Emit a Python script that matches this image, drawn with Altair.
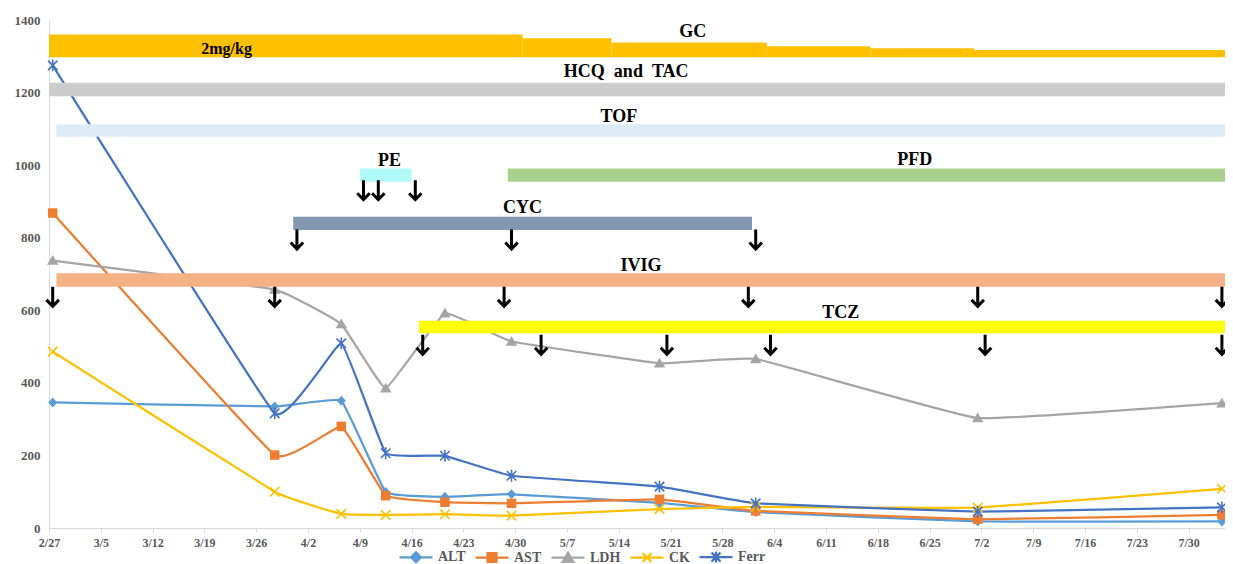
import altair as alt
import pandas as pd

# ---------------- laboratory values ----------------
LAB_DATES = ["2020-02-27", "2020-03-28", "2020-04-06", "2020-04-12", "2020-04-20",
             "2020-04-29", "2020-05-19", "2020-06-01", "2020-07-01", "2020-08-03"]
ALT = [346, 335, 351, 99, 86, 93, 69, 44, 18, 18]
AST = [868, 201, 280, 89, 71, 68, 79, 47, 24, 36]
LDH = [737, 657, 562, 385, 592, 514, 454, 466, 303, 344]
CK = [486, 100, 39, 36, 38, 34, 52, 58, 56, 108]
FERR = [1275, 316, 509, 206, 199, 144, 114, 68, 45, 57]

SERIES = ["ALT", "AST", "LDH", "CK", "Ferr"]
SERIES_COLORS = ["#5B9BD5", "#ED7D31", "#A5A5A5", "#FFC000", "#4472C4"]
MARKER_PATHS = [
    "M0,-1L0.9,0L0,1L-0.9,0Z",
    "M-0.95,-0.95L0.95,-0.95L0.95,0.95L-0.95,0.95Z",
    "M0,-1.1L1.15,0.85L-1.15,0.85Z",
    "M-1,-1L1,1M-1,1L1,-1",
    "M-1,-1L1,1M-1,1L1,-1M0,-1.25L0,1.25",
]
MARKER_FILLED = [True, True, True, False, False]
LEGEND_PATHS = [
    "M-1,0L1,0M0,-0.3L0.3,0L0,0.3L-0.3,0ZM0,-0.18L0.18,0L0,0.18L-0.18,0ZM0,-0.06L0.06,0L0,0.06L-0.06,0Z",
    "M-1,0L1,0M-0.27,-0.27L0.27,-0.27L0.27,0.27L-0.27,0.27ZM-0.15,-0.15L0.15,-0.15L0.15,0.15L-0.15,0.15Z"
    "M-0.05,-0.05L0.05,-0.05L0.05,0.05L-0.05,0.05Z",
    "M-1,0L1,0M0,-0.3L0.32,0.25L-0.32,0.25ZM0,-0.117L0.16,0.158L-0.16,0.158ZM0,0.012L0.048,0.094L-0.048,0.094Z",
    "M-1,0L1,0M-0.27,-0.27L0.27,0.27M-0.27,0.27L0.27,-0.27",
    "M-1,0L1,0M-0.27,-0.27L0.27,0.27M-0.27,0.27L0.27,-0.27M0,-0.32L0,0.32",
]

# ---------------- axes ----------------
TICK_DATES = ["2020-02-27", "2020-03-05", "2020-03-12", "2020-03-19", "2020-03-26",
              "2020-04-02", "2020-04-09", "2020-04-16", "2020-04-23", "2020-04-30",
              "2020-05-07", "2020-05-14", "2020-05-21", "2020-05-28", "2020-06-04",
              "2020-06-11", "2020-06-18", "2020-06-25", "2020-07-02", "2020-07-09",
              "2020-07-16", "2020-07-23", "2020-07-30"]
X_DOMAIN = ["2020-02-27", "2020-08-03T22"]
Y_TICKS = [0, 200, 400, 600, 800, 1000, 1200, 1400]

# ---------------- treatment bars ----------------
BAR_NAME = ["GC", "GC", "GC", "GC", "GC", "GC", "HCQ and TAC", "TOF", "PE", "PFD", "CYC", "IVIG", "TCZ"]
BAR_START = ["2020-02-27", "2020-05-01", "2020-05-13", "2020-06-03", "2020-06-17", "2020-07-01",
             "2020-02-27", "2020-02-28", "2020-04-09", "2020-04-29", "2020-03-31", "2020-02-28", "2020-04-17"]
BAR_END = ["2020-05-01", "2020-05-13", "2020-06-03", "2020-06-17", "2020-07-01", "2020-08-05",
           "2020-08-05", "2020-08-05", "2020-04-16", "2020-08-05", "2020-06-01", "2020-08-05", "2020-08-05"]
BAR_LOW = [1297, 1297, 1297, 1297, 1297, 1297, 1190, 1078, 954, 954, 821, 665, 537]
BAR_HIGH = [1360, 1350, 1338, 1328, 1322, 1317, 1227, 1113, 991, 991, 858, 702, 571]
BAR_COLOR = ["#FFC000"] * 6 + ["#CCCCCC", "#DDEBF7", "#B0FAFA", "#A9D18E", "#8497B0", "#F4B183", "#FFFF00"]

# ---------------- text labels ----------------
LABEL_TEXT = ["GC", "2mg/kg", "HCQ \u00a0and \u00a0TAC", "TOF", "PE", "PFD", "CYC", "IVIG", "TCZ"]
LABEL_DATE = ["2020-05-24", "2020-03-22", "2020-05-15", "2020-05-14", "2020-04-13",
              "2020-06-23", "2020-05-01", "2020-05-17", "2020-06-13"]
LABEL_Y = [1366, 1320, 1258, 1134, 1012, 1015, 882, 723, 593]
LABEL_SIZE = [18, 16, 18, 18, 18, 18, 18, 18, 18]

# ---------------- dosing arrows ----------------
PE_ARROWS = ["2020-04-09", "2020-04-11", "2020-04-16"]
CYC_ARROWS = ["2020-03-31", "2020-04-29", "2020-06-01"]
IVIG_ARROWS = ["2020-02-27", "2020-03-28", "2020-04-28", "2020-05-31", "2020-07-01", "2020-08-03"]
TCZ_ARROWS = ["2020-04-17", "2020-05-03", "2020-05-20", "2020-06-03", "2020-07-02", "2020-08-03"]
ARROW_LEVEL = {"PE": 931, "CYC": 795, "IVIG": 637, "TCZ": 505}
ARROW_PATH = "M0,-1L0,0.92M-0.62,0.3L0,0.95L0.62,0.3"

FONT = "Liberation Serif"


def dt(s):
    day, _, hour = s.partition("T")
    y, m, d = (int(v) for v in day.split("-"))
    return alt.DateTime(year=y, month=m, date=d, hours=int(hour or 0), utc=True)


lab = pd.DataFrame({
    "date": LAB_DATES * len(SERIES),
    "series": [s for s in SERIES for _ in LAB_DATES],
    "value": ALT + AST + LDH + CK + FERR,
})
bars = pd.DataFrame({"name": BAR_NAME, "start": BAR_START, "end": BAR_END,
                     "low": BAR_LOW, "high": BAR_HIGH, "color": BAR_COLOR})
labels = pd.DataFrame({"text": LABEL_TEXT, "date": LABEL_DATE, "y": LABEL_Y, "size": LABEL_SIZE})
arrow_rows = []
for grp, dates in [("PE", PE_ARROWS), ("CYC", CYC_ARROWS), ("IVIG", IVIG_ARROWS), ("TCZ", TCZ_ARROWS)]:
    for d in dates:
        arrow_rows.append({"group": grp, "date": d, "level": ARROW_LEVEL[grp]})
arrows = pd.DataFrame(arrow_rows)

XSCALE = alt.Scale(type="utc", domain=[dt(X_DOMAIN[0]), dt(X_DOMAIN[1])])
XAXIS = alt.Axis(values=[dt(s) for s in TICK_DATES],
                 labelExpr="utcFormat(datum.value, '%-m/%-d')",
                 title=None, grid=False, tickSize=4, labelPadding=5, labelFontSize=12,
                 labelAngle=0, labelOverlap=False, labelFlush=False)
YSCALE = alt.Scale(domain=[0, 1400], nice=False, zero=True)
YAXIS = alt.Axis(values=Y_TICKS, format="d", ticks=False, labelPadding=9, labelFontSize=13,
                 grid=False, title=None)


def xband(field="date"):
    return alt.X(f"utcyearmonthdate({field}):T", bandPosition=0.5, scale=XSCALE, axis=XAXIS, title=None)


def xraw(field):
    return alt.X(f"{field}:T", scale=XSCALE, axis=XAXIS, title=None)


def yq(field):
    return alt.Y(f"{field}:Q", scale=YSCALE, axis=YAXIS, title=None)


series_layers = []
for s, c in zip(SERIES, SERIES_COLORS):
    series_layers.append(
        alt.Chart(lab).transform_filter(alt.datum.series == s).mark_line(
            interpolate="cardinal", tension=0.75, strokeWidth=2.25, color=c
        ).encode(x=xband(), y=yq("value"))
    )
for s, c, p, f in zip(SERIES, SERIES_COLORS, MARKER_PATHS, MARKER_FILLED):
    base = alt.Chart(lab).transform_filter(alt.datum.series == s)
    if f:
        mk = base.mark_point(shape=p, filled=True, color=c, size=100, opacity=1)
    else:
        mk = base.mark_point(shape=p, filled=False, color=c, size=90, strokeWidth=1.6, opacity=1)
    series_layers.append(mk.encode(x=xband(), y=yq("value")))

bar_layer = alt.Chart(bars).mark_rect().encode(
    x=xraw("start"), x2="end:T", y=yq("low"), y2="high:Q",
    fill=alt.Fill("color:N", scale=None),
)

arrow_layer = alt.Chart(arrows).mark_point(
    shape=ARROW_PATH, filled=False, color="black", size=400, strokeWidth=3, opacity=1
).encode(x=xband(), y=yq("level"))

text_layer = alt.Chart(labels).mark_text(
    font=FONT, fontWeight="bold", color="black", baseline="middle", align="center"
).encode(x=xraw("date"), y=yq("y"), text="text:N", size=alt.Size("size:Q", scale=None))

LEG = dict(orient="none", legendX=349, legendY=519, direction="horizontal",
           labelFont=FONT, labelFontWeight="bold", labelFontSize=14, labelColor="#595959",
           symbolSize=1089, symbolStrokeWidth=2.25, symbolOpacity=1, labelOffset=4,
           columnPadding=5, padding=0)
legend_layer = alt.Chart(lab).mark_point(filled=False, strokeWidth=0.01).encode(
    x=xband(), y=yq("value"),
    color=alt.Color("series:N", scale=alt.Scale(domain=SERIES, range=SERIES_COLORS),
                    legend=alt.Legend(**LEG), title=None),
    shape=alt.Shape("series:N", scale=alt.Scale(domain=SERIES, range=LEGEND_PATHS),
                    legend=alt.Legend(**LEG), title=None),
)

chart = alt.layer(*series_layers, bar_layer, arrow_layer, text_layer, legend_layer).properties(
    width=1176, height=508,
    padding={"left": 41, "top": 12, "right": 0, "bottom": 36},
    autosize=alt.AutoSizeParams(type="none"),
    background="white",
).configure_view(stroke=None).configure_axis(
    domainColor="#D9D9D9", tickColor="#D9D9D9", labelFont=FONT, labelFontWeight="bold",
    labelColor="#595959", domainWidth=1,
)

chart.save("out.html", embed_options={"renderer": "svg", "actions": False})
